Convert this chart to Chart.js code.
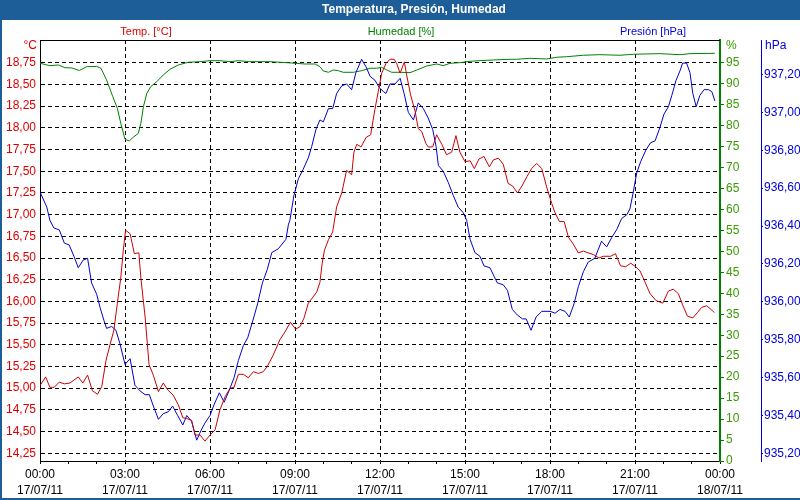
<!DOCTYPE html>
<html>
<head>
<meta charset="utf-8">
<script src="https://cdn.jsdelivr.net/npm/chart.js"></script>
<style>
html,body{margin:0;padding:0;background:#fff;}
canvas{display:block;}
</style>
</head>
<body>
<canvas id="c" width="800" height="500"></canvas>
<script>
// ---- Data (hours since 17/07/11 00:00) ----
const title = 'Temperatura, Presión, Humedad';
const seriesNames = ['Temp. [°C]', 'Humedad [%]', 'Presión [hPa]'];
const unitNames = ['°C', '%', 'hPa'];

const tempHours = [0,0.2,0.35,0.5,0.68,0.86,1.06,1.35,1.51,1.68,
1.85,2.03,2.18,2.33,2.47,2.61,2.73,2.85,2.94,3.02,
3.18,3.33,3.49,3.56,3.71,3.85,4.0,4.18,4.35,4.51,
4.7,4.88,5.04,5.18,5.35,5.47,5.65,5.82,6.0,6.18,
6.35,6.53,6.71,6.85,7.0,7.18,7.35,7.53,7.71,7.88,
8.02,8.23,8.47,8.65,8.84,9.02,9.18,9.32,9.47,9.61,
9.77,9.88,9.96,10.04,10.18,10.33,10.47,10.65,10.82,11.0,
11.08,11.18,11.33,11.51,11.67,11.82,11.94,12.06,12.21,12.35,
12.5,12.59,12.71,12.86,12.94,13.08,13.24,13.35,13.47,13.62,
13.7,13.86,14.0,14.18,14.35,14.53,14.68,14.82,15.0,15.18,
15.33,15.49,15.67,15.86,16.0,16.18,16.35,16.52,16.68,16.85,
17.01,17.19,17.35,17.53,17.71,17.88,18.06,18.18,18.33,18.5,
18.65,18.82,19.0,19.18,19.34,19.53,19.73,19.88,20.14,20.31,
20.49,20.67,20.85,21.02,21.18,21.29,21.53,21.74,21.98,22.18,
22.35,22.53,22.68,22.85,23.04,23.2,23.35,23.53,23.71,23.8];
const tempValues = [15.03,15.13,15.01,15.01,15.07,15.05,15.06,15.13,15.06,15.15,
14.97,14.93,15.02,15.32,15.50,15.67,15.98,16.27,16.59,16.82,
16.78,16.55,16.56,16.27,15.82,15.27,15.15,14.96,15.06,14.98,
14.92,14.81,14.66,14.65,14.63,14.46,14.46,14.39,14.46,14.52,
14.75,14.90,15.00,15.01,15.16,15.16,15.12,15.19,15.17,15.19,
15.25,15.38,15.56,15.65,15.76,15.68,15.71,15.81,15.98,16.04,
16.11,16.22,16.44,16.59,16.71,16.80,17.09,17.25,17.51,17.46,
17.72,17.81,17.78,17.89,17.92,18.21,18.42,18.63,18.74,18.79,
18.79,18.74,18.63,18.76,18.61,18.38,18.19,17.99,17.96,17.82,
17.78,17.78,17.92,17.81,17.69,17.72,17.91,17.72,17.61,17.62,
17.53,17.64,17.67,17.55,17.63,17.65,17.58,17.36,17.33,17.25,
17.33,17.44,17.53,17.59,17.53,17.32,17.13,17.02,16.92,16.92,
16.74,16.66,16.56,16.58,16.56,16.54,16.50,16.52,16.52,16.55,
16.41,16.40,16.44,16.40,16.35,16.27,16.09,16.01,15.98,16.12,
16.14,16.09,15.96,15.83,15.81,15.87,15.93,15.95,15.90,15.87];

const humHours = [0,0.35,0.65,0.88,1.12,1.39,1.65,2.0,2.15,2.35,
2.57,2.73,2.85,3.0,3.15,3.29,3.47,3.56,3.65,3.77,
3.91,4.12,4.35,4.59,4.88,5.23,5.65,6.0,6.35,6.71,
7.0,7.41,8.12,8.71,9.0,9.35,9.71,9.88,10.0,10.18,
10.35,10.53,10.7,11.06,11.35,11.65,11.88,12.06,12.24,12.41,
12.71,13.06,13.3,13.65,14.0,14.23,14.47,14.82,15.18,15.53,
16.0,16.59,16.82,17.29,17.88,18.24,18.59,19.18,19.76,20.47,
20.94,21.88,22.59,22.94,23.82];
const humValues = [94.85,94.28,94.44,93.80,93.73,93.13,94.04,94.09,93.66,90.87,
86.88,84.12,80.54,76.72,76.32,77.20,78.15,80.54,84.50,87.69,
89.27,90.46,92.06,93.42,94.44,95.09,95.23,95.47,95.47,95.23,
95.47,95.23,95.23,94.99,94.85,94.68,94.68,94.04,93.01,92.70,
93.25,93.08,92.70,92.70,93.08,93.66,93.66,93.89,93.25,92.70,
92.70,92.61,93.25,94.20,94.68,94.28,94.85,94.99,95.33,95.47,
95.64,95.80,95.80,96.04,95.87,96.28,96.42,96.76,96.90,96.76,
97.00,97.14,96.90,97.14,97.23];

const presHours = [0,0.24,0.35,0.49,0.68,0.86,1.03,1.2,1.35,1.52,
1.68,1.82,2.0,2.12,2.26,2.35,2.53,2.68,2.82,3.0,
3.18,3.35,3.53,3.71,3.86,4.0,4.18,4.35,4.53,4.68,
4.86,5.04,5.18,5.35,5.53,5.68,5.82,6.0,6.15,6.33,
6.5,6.67,6.85,7.0,7.18,7.33,7.51,7.68,7.85,8.02,
8.18,8.41,8.68,8.77,8.82,8.96,9.12,9.29,9.47,9.59,
9.74,9.88,10.0,10.18,10.33,10.47,10.65,10.82,11.0,11.15,
11.35,11.51,11.65,11.82,11.98,12.12,12.21,12.35,12.53,12.71,
12.85,13.0,13.18,13.35,13.53,13.7,13.86,13.98,14.06,14.23,
14.41,14.59,14.76,14.94,15.06,15.18,15.35,15.53,15.67,15.88,
16.14,16.35,16.5,16.67,16.85,17.03,17.16,17.33,17.51,17.71,
18.0,18.18,18.35,18.53,18.68,18.85,19.0,19.18,19.35,19.58,
19.82,20.0,20.18,20.35,20.53,20.71,20.82,20.94,21.06,21.2,
21.38,21.55,21.71,21.88,22.02,22.18,22.3,22.45,22.59,22.68,
22.82,22.94,23.04,23.16,23.29,23.44,23.59,23.71,23.82];
const presValues = [936.58,936.50,936.43,936.39,936.38,936.31,936.30,936.24,936.18,936.22,
936.23,936.10,936.04,935.97,935.90,935.86,935.87,935.85,935.78,935.67,
935.70,935.56,935.53,935.51,935.51,935.45,935.38,935.41,935.42,935.45,
935.40,935.35,935.40,935.37,935.27,935.32,935.36,935.40,935.46,935.52,
935.47,935.53,935.60,935.69,935.77,935.81,935.90,935.99,936.10,936.17,
936.26,936.28,936.33,936.41,936.43,936.56,936.65,936.70,936.76,936.82,
936.91,936.96,936.95,937.02,937.02,937.10,937.14,937.15,937.12,937.21,
937.28,937.24,937.19,937.17,937.13,937.11,937.10,937.15,937.15,937.18,
937.10,937.00,936.96,937.05,937.02,936.97,936.91,936.82,936.72,936.69,
936.63,936.56,936.50,936.47,936.43,936.33,936.26,936.24,936.19,936.18,
936.10,936.09,936.06,935.96,935.93,935.91,935.91,935.85,935.92,935.95,
935.95,935.94,935.96,935.95,935.92,935.99,936.08,936.16,936.21,936.23,
936.32,936.29,936.34,936.38,936.44,936.46,936.49,936.58,936.68,936.74,
936.80,936.84,936.85,936.92,936.99,937.03,937.09,937.17,937.22,937.26,
937.26,937.21,937.10,937.03,937.09,937.12,937.12,937.11,937.06];

// ---- Tick labels ----
const hourTicks = [0,1,2,3,4,5,6,7,8,9,10,11,12,13,14,15,16,17,18,19,20,21,22,23,24];
const timeLabels = ['00:00','03:00','06:00','09:00','12:00','15:00','18:00','21:00','00:00'];
const dateLabels = ['17/07/11','17/07/11','17/07/11','17/07/11','17/07/11','17/07/11','17/07/11','17/07/11','18/07/11'];
const tempTicks = [14.25,14.5,14.75,15,15.25,15.5,15.75,16,16.25,16.5,16.75,17,17.25,17.5,17.75,18,18.25,18.5,18.75];
const humTicks = [0,5,10,15,20,25,30,35,40,45,50,55,60,65,70,75,80,85,90,95];
const presTicks = [935.2,935.4,935.6,935.8,936.0,936.2,936.4,936.6,936.8,937.0,937.2];

// ---- Styles ----
const FONT = '"Liberation Sans", Arial, sans-serif';
const RED_LINE = '#cc0000', RED_TXT = '#dd0000';
const GREEN_LINE = '#008000', GREEN_TXT = '#3a9a00';
const BLUE_LINE = '#0000cc', BLUE_TXT = '#0000dd';
const BAR = '#1d5e99';
const DASH = [4,3];

Chart.defaults.font.family = FONT;
Chart.defaults.font.size = 12;

const pts = (hs, vs) => hs.map((h, i) => ({x: h, y: vs[i]}));
const comma = v => v.toFixed(2).replace('.', ',');

const deco = {
  id: 'deco',
  afterDraw(chart) {
    const c = chart.ctx, a = chart.chartArea;
    c.save();
    // top border of plot
    c.strokeStyle = '#000'; c.lineWidth = 1;
    c.beginPath(); c.moveTo(a.left, a.top + 0.5); c.lineTo(a.right, a.top + 0.5); c.stroke();
    // title bar
    c.fillStyle = BAR; c.fillRect(0, 0, 800, 20);
    c.fillStyle = '#ffffff'; c.font = 'bold 12px ' + FONT;
    c.textAlign = 'center'; c.textBaseline = 'middle';
    c.fillText(title, 414, 10);
    // frame
    c.fillStyle = BAR; c.fillRect(0, 20, 2, 480); c.fillRect(0, 498, 800, 2);
    // series labels
    c.font = '11px ' + FONT;
    c.fillStyle = RED_TXT; c.fillText(seriesNames[0], 146, 32);
    c.fillStyle = GREEN_LINE; c.fillText(seriesNames[1], 401, 32);
    c.fillStyle = BLUE_TXT; c.fillText(seriesNames[2], 653, 32);
    // unit labels
    c.font = '12px ' + FONT;
    c.textAlign = 'right'; c.fillStyle = RED_TXT; c.fillText(unitNames[0], 37, 46);
    c.textAlign = 'left'; c.fillStyle = GREEN_TXT; c.fillText(unitNames[1], 726, 46);
    c.fillStyle = BLUE_TXT; c.fillText(unitNames[2], 765, 46);
    c.restore();
  }
};

new Chart(document.getElementById('c'), {
  type: 'line',
  data: {
    datasets: [
      {label: seriesNames[0], data: pts(tempHours, tempValues), yAxisID: 'yT', borderColor: RED_LINE, borderWidth: 1, pointRadius: 0, tension: 0, fill: false},
      {label: seriesNames[2], data: pts(presHours, presValues), yAxisID: 'yP', borderColor: BLUE_LINE, borderWidth: 1, pointRadius: 0, tension: 0, fill: false},
      {label: seriesNames[1], data: pts(humHours, humValues), yAxisID: 'yH', borderColor: GREEN_LINE, borderWidth: 1, pointRadius: 0, tension: 0, fill: false}
    ]
  },
  options: {
    responsive: false,
    animation: false,
    devicePixelRatio: 1,
    layout: {padding: {top: 40, left: 0, right: 0, bottom: 0}},
    plugins: {legend: {display: false}, tooltip: {enabled: false}, title: {display: false}},
    scales: {
      x: {
        type: 'linear', position: 'bottom', min: 0, max: 24,
        afterBuildTicks: s => { s.ticks = hourTicks.map(v => ({value: v})); },
        afterFit: s => { s.height = 39; },
        grid: {
          color: ctx => (ctx.tick && ctx.tick.value % 3 === 0 && ctx.tick.value > 0 && ctx.tick.value < 24) ? '#000' : 'rgba(0,0,0,0)',
          lineWidth: 1, drawTicks: true, tickLength: 3, tickColor: '#000', tickBorderDash: []
        },
        border: {display: true, color: '#000', width: 1, dash: DASH},
        ticks: {
          autoSkip: false, maxRotation: 0, minRotation: 0, padding: 3, color: '#000',
          font: {size: 12, lineHeight: 1.33},
          callback: v => (v % 3 === 0) ? [timeLabels[v / 3], dateLabels[v / 3]] : ''
        }
      },
      yT: {
        type: 'linear', position: 'left', min: 14.161, max: 19.012,
        afterBuildTicks: s => { s.ticks = tempTicks.map(v => ({value: v})); },
        afterFit: s => { s.width = 40; },
        grid: {color: '#000', lineWidth: 1, drawTicks: false},
        border: {display: true, color: '#000', width: 1, dash: DASH},
        ticks: {color: RED_TXT, padding: 4, font: {size: 12}, callback: v => comma(v)}
      },
      yH: {
        type: 'linear', position: 'right', min: 0, max: 100.4,
        afterBuildTicks: s => { s.ticks = humTicks.map(v => ({value: v})); },
        afterFit: s => { s.width = 41; },
        grid: {drawOnChartArea: false, drawTicks: true, tickLength: 4, tickColor: GREEN_LINE, color: GREEN_LINE},
        border: {display: true, color: GREEN_LINE, width: 2},
        ticks: {color: GREEN_TXT, padding: 2, font: {size: 12}, callback: v => String(v)}
      },
      yP: {
        type: 'linear', position: 'right', min: 935.160, max: 937.382,
        afterBuildTicks: s => { s.ticks = presTicks.map(v => ({value: v})); },
        afterFit: s => { s.width = 39; },
        grid: {drawOnChartArea: false, drawTicks: true, tickLength: 2, tickColor: BLUE_TXT, color: BLUE_TXT},
        border: {display: true, color: BLUE_TXT, width: 1},
        ticks: {color: BLUE_TXT, padding: 1, font: {size: 12}, callback: v => comma(v)}
      }
    }
  },
  plugins: [deco]
});
</script>
</body>
</html>
